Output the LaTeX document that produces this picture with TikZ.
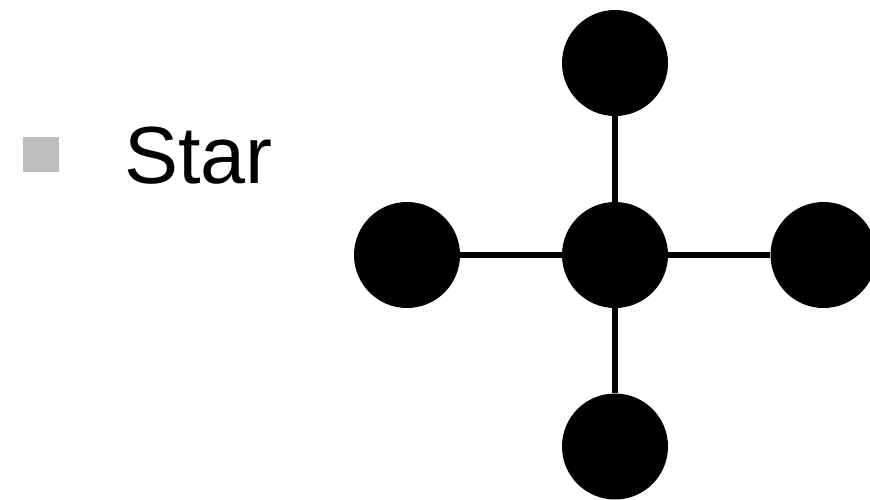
\documentclass[tikz,border=0pt]{standalone}
\usepackage{fontspec}
\setmainfont{Liberation Sans}
\definecolor{bulletgray}{HTML}{BEBEBE}
\begin{document}
\begin{tikzpicture}[x=1pt,y=-1pt,
  dot/.style={circle,fill=black,draw=none,inner sep=0pt,minimum size=106pt},
  link/.style={line width=6.5pt,draw=black},
  bulletbox/.style={fill=bulletgray,draw=none,inner sep=0pt,minimum width=36pt,minimum height=35pt}]
\useasboundingbox (0,0) rectangle (870,499);
\node[bulletbox] (b) at (41,154.5) {};
\node[anchor=base west,inner sep=0pt,font=\fontsize{81}{90}\selectfont] (t) at (124,183) {Star};
\node[dot] (c) at (615,255) {};
\node[dot] (n) at (615,63) {};
\node[dot] (s) at (615,446.5) {};
\node[dot] (w) at (407,255) {};
\node[dot] (e) at (823.5,255) {};
\draw[link] (c) -- (n);
\draw[link] (c) -- (s);
\draw[link] (c) -- (w);
\draw[link] (c) -- (e);
\end{tikzpicture}
\end{document}
